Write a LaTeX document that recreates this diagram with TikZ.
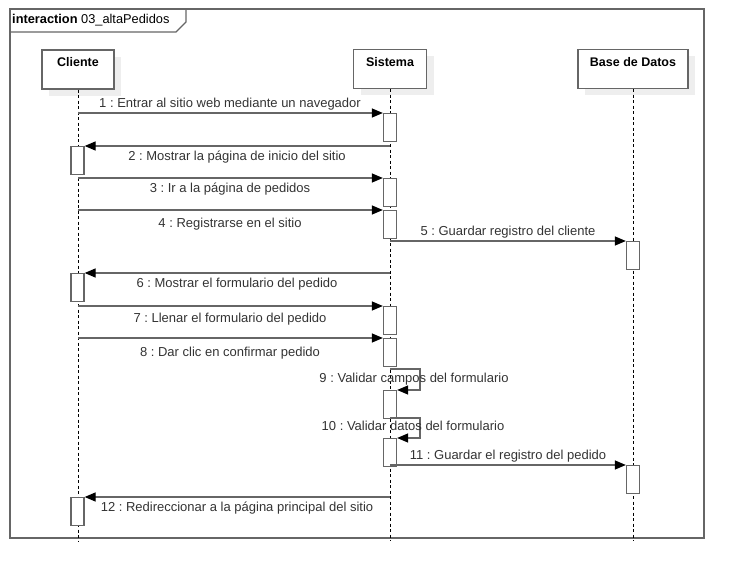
\documentclass[tikz,border=0pt]{standalone}
\usepackage{fontspec}
\setmainfont{Liberation Sans}
\usetikzlibrary{arrows.meta,shadows}
\definecolor{linec}{HTML}{666666}
\definecolor{textc}{HTML}{333333}
\definecolor{shadc}{HTML}{EEEEEE}
\frenchspacing
\begin{document}
\begin{tikzpicture}[x=1pt,y=-1pt,
  head/.style={draw=linec,line width=1.3pt,fill=white,minimum height=39pt,inner sep=0pt,
    drop shadow={shadow xshift=7pt,shadow yshift=-7pt,fill=shadc,opacity=1}},
  headlbl/.style={font=\fontsize{12.5}{14}\selectfont\bfseries,anchor=north,yshift=-5pt},
  life/.style={draw=black,line width=0.8pt,dash pattern=on 3pt off 2.5pt},
  act/.style={draw=linec,line width=1.3pt,fill=white,minimum width=13pt,minimum height=28pt,inner sep=0pt,anchor=north},
  msg/.style={draw=linec,line width=1.3pt,-{Triangle[length=11pt,width=9pt,fill=black,color=black]}},
  lbl/.style={font=\fontsize{13}{14}\selectfont,text=textc,inner sep=0pt,yshift=-1.5pt}]
\useasboundingbox (0,0) rectangle (744,580);
% frame
\draw[linec,line width=1.3pt] (10,9) rectangle (704,538);
\draw[linec,line width=1.3pt] (10,32) -- (176,32) -- (186,22) -- (186,9);
\node[anchor=west,inner sep=0pt,font=\fontsize{12.8}{14}\selectfont] (ttl) at (12,20.5) {\textbf{interaction} 03\_altaPedidos};
% heads
\node[head,minimum width=72pt,label={[headlbl]north:Cliente}] (cli) at (78,69.5) {};
\node[head,minimum width=73pt,label={[headlbl]north:Sistema}] (sis) at (390,69) {};
\node[head,minimum width=110pt,label={[headlbl]north:Base de Datos}] (bd) at (633,69) {};
\coordinate (bot) at (0,541);
\draw[life] (cli.south) -- (cli.south |- bot);
\draw[life] (sis.south) -- (sis.south |- bot);
\draw[life] (bd.south) -- (bd.south |- bot);
% activations
\node[act] (s1) at (390,113) {};
\node[act] (c2) at (77.5,146) {};
\node[act] (s3) at (390,178) {};
\node[act] (s4) at (390,210) {};
\node[act] (b5) at (633,241) {};
\node[act] (c6) at (77.5,273) {};
\node[act] (s7) at (390,306) {};
\node[act] (s8) at (390,338) {};
\node[act] (s9) at (390,390) {};
\node[act] (s10) at (390,438) {};
\node[act] (b11) at (633,465) {};
\node[act] (c12) at (77.5,497) {};
% messages
\draw[msg] (cli.south |- s1.north) -- (s1.north west);
\node[lbl] (l1) at (230,103) {1 : Entrar al sitio web mediante un navegador};
\draw[msg] (sis.south |- c2.north) -- (c2.north east);
\node[lbl] (l2) at (237,155.5) {2 : Mostrar la página de inicio del sitio};
\draw[msg] (cli.south |- s3.north) -- (s3.north west);
\node[lbl] (l3) at (230,188) {3 : Ir a la página de pedidos};
\draw[msg] (cli.south |- s4.north) -- (s4.north west);
\node[lbl] (l4) at (230,223) {4 : Registrarse en el sitio};
\draw[msg] (sis.south |- b5.north) -- (b5.north west);
\node[lbl] (l5) at (508,231) {5 : Guardar registro del cliente};
\draw[msg] (sis.south |- c6.north) -- (c6.north east);
\node[lbl] (l6) at (237,283) {6 : Mostrar el formulario del pedido};
\draw[msg] (cli.south |- s7.north) -- (s7.north west);
\node[lbl] (l7) at (230,318) {7 : Llenar el formulario del pedido};
\draw[msg] (cli.south |- s8.north) -- (s8.north west);
\node[lbl] (l8) at (230,352) {8 : Dar clic en confirmar pedido};
\draw[msg] (sis.south |- 0,369) -- (420,369) -- (420,390) -- (s9.north east);
\node[lbl] (l9) at (414,377.5) {9 : Validar campos del formulario};
\draw[msg] (sis.south |- 0,418) -- (420,418) -- (420,438) -- (s10.north east);
\node[lbl] (l10) at (413,424.5) {10 : Validar datos del formulario};
\draw[msg] (sis.south |- b11.north) -- (b11.north west);
\node[lbl] (l11) at (508,455) {11 : Guardar el registro del pedido};
\draw[msg] (sis.south |- c12.north) -- (c12.north east);
\node[lbl] (l12) at (237,507) {12 : Redireccionar a la página principal del sitio};
\end{tikzpicture}
\end{document}
